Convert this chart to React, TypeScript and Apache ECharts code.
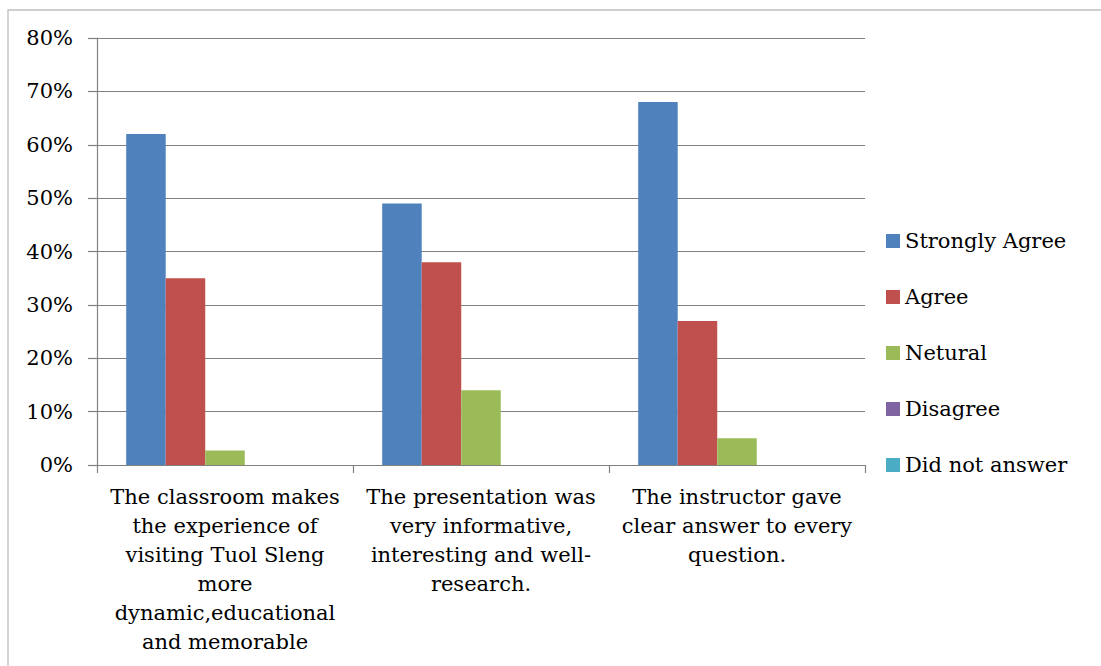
import React, { useEffect, useRef } from "react";
import * as echarts from "echarts";

const categories = [
  "The classroom makes\nthe experience of\nvisiting Tuol Sleng\nmore\ndynamic,educational\nand memorable",
  "The presentation was\nvery informative,\ninteresting and well-\nresearch.",
  "The instructor gave\nclear answer to every\nquestion.",
];
const seriesNames = ["Strongly Agree", "Agree", "Netural", "Disagree", "Did not answer"];
const stronglyAgree = [62, 49, 68];
const agree = [35, 38, 27];
const neutral = [2.7, 14, 5];
const disagree = [0, 0, 0];
const didNotAnswer = [0, 0, 0];
const colors = ["#4F81BD", "#C0504D", "#9BBB59", "#8064A2", "#4BACC6"];

const FONT = "DejaVu Serif";

export default function App() {
  const ref = useRef<HTMLDivElement>(null);
  useEffect(() => {
    if (!ref.current) return;
    const chart = echarts.init(ref.current, undefined, { renderer: "svg" });
    const values = [stronglyAgree, agree, neutral, disagree, didNotAnswer];
    chart.setOption({
      animation: false,
      backgroundColor: "#ffffff",
      color: colors,
      textStyle: { fontFamily: FONT },
      graphic: [
        {
          type: "rect",
          shape: { x: 8, y: 10, width: 1200, height: 800 },
          style: { fill: "none", stroke: "#BFBFBF", lineWidth: 1.3 },
          silent: true,
        },
      ],
      grid: { left: 97, right: 236, top: 38, bottom: 201 },
      legend: {
        orient: "vertical",
        left: 886,
        top: 229,
        padding: 0,
        itemWidth: 14,
        itemHeight: 14,
        itemGap: 32,
        icon: "rect",
        data: seriesNames,
        textStyle: { fontFamily: FONT, fontSize: 21, color: "#000", lineHeight: 24 },
      },
      xAxis: {
        type: "category",
        data: categories,
        axisLine: { lineStyle: { color: "#808080", width: 1.2 } },
        axisTick: { show: true, length: 8, lineStyle: { color: "#808080", width: 1.2 } },
        axisLabel: {
          interval: 0,
          margin: 17,
          fontFamily: FONT,
          fontSize: 21,
          lineHeight: 29,
          color: "#000",
          align: "center",
        },
      },
      yAxis: {
        type: "value",
        min: 0,
        max: 80,
        interval: 10,
        axisLine: { show: true, lineStyle: { color: "#808080", width: 1.2 } },
        axisTick: { show: true, length: 9, lineStyle: { color: "#808080", width: 1.2 } },
        splitLine: { show: true, lineStyle: { color: "#808080", width: 1.2 } },
        axisLabel: {
          formatter: "{value}%",
          margin: 24,
          fontFamily: FONT,
          fontSize: 21,
          color: "#000",
        },
      },
      series: seriesNames.map((name, i) => ({
        name,
        type: "bar",
        data: values[i],
        barGap: "0%",
        barCategoryGap: "22.8%",
        itemStyle: { color: colors[i] },
      })),
    });
    return () => chart.dispose();
  }, []);
  return (
    <div
      ref={ref}
      style={{ position: "fixed", left: 0, top: 0, width: 1101, height: 666 }}
    />
  );
}
